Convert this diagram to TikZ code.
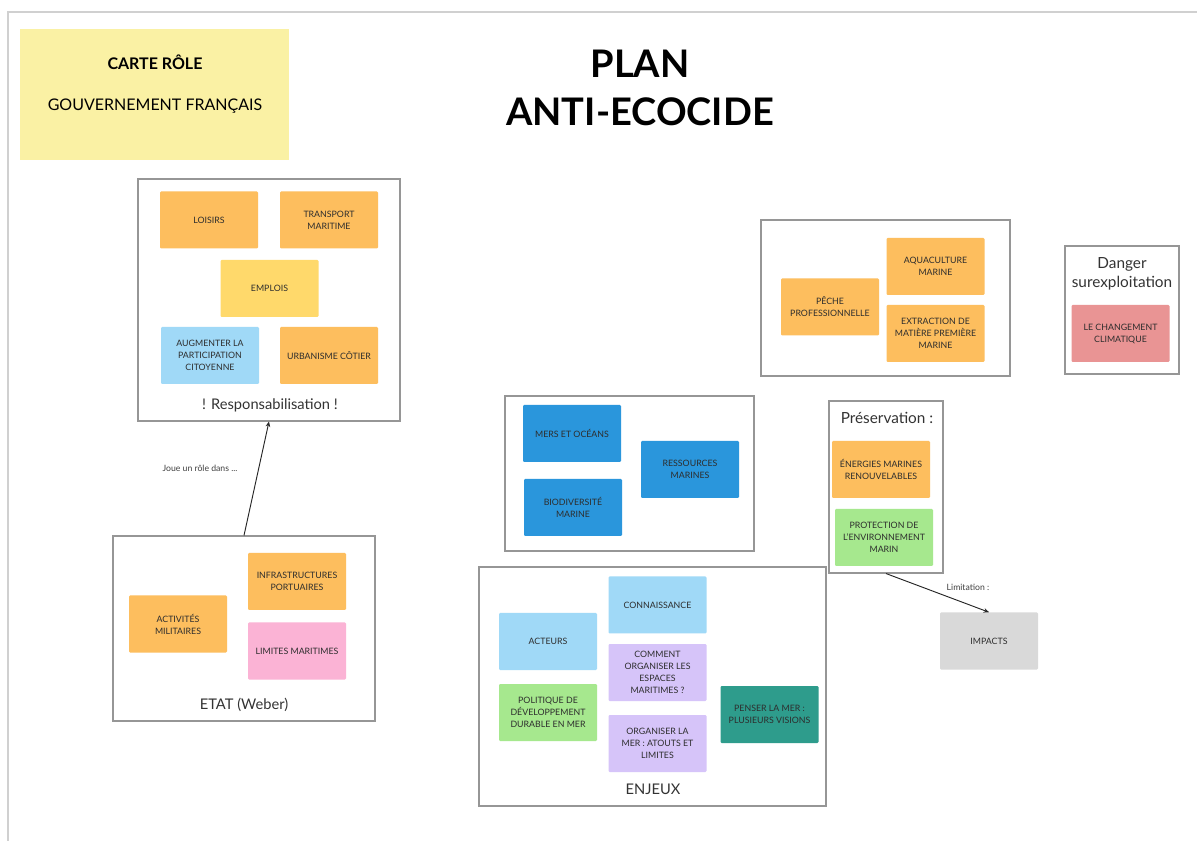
\documentclass[tikz,border=0pt]{standalone}
\usepackage{fontspec}
\setmainfont{Lato}
\usetikzlibrary{arrows.meta}
\definecolor{cardyellow}{RGB}{250,241,164}
\definecolor{orangenote}{RGB}{253,190,94}
\definecolor{yellownote}{RGB}{255,217,107}
\definecolor{lightblue}{RGB}{160,217,247}
\definecolor{pinknote}{RGB}{251,179,213}
\definecolor{greennote}{RGB}{166,232,142}
\definecolor{purplenote}{RGB}{214,196,249}
\definecolor{bluenote}{RGB}{42,150,220}
\definecolor{tealnote}{RGB}{46,156,140}
\definecolor{rednote}{RGB}{233,148,148}
\definecolor{greynote}{RGB}{217,217,217}
\definecolor{framegrey}{RGB}{150,150,150}
\definecolor{outergrey}{RGB}{208,208,208}
\definecolor{notetext}{RGB}{45,45,45}
\tikzset{
  sz/.style 2 args={minimum width=#1*0.75pt, minimum height=#2*0.75pt},
  note/.style={sz={98}{57}, rounded corners=0.8pt, inner sep=1pt, align=center,
    font=\fontsize{6.6}{9}\selectfont, text=notetext},
  frame/.style={draw=framegrey, line width=0.8pt, fill=white},
  framelabel/.style={font=\fontsize{11}{13}\selectfont, text=black!80, align=center},
  smalllabel/.style={font=\fontsize{6.5}{8}\selectfont, text=black!75},
  conn/.style={draw=black!85, line width=0.7pt, -{Stealth[length=4pt,width=3.5pt]}}
}
\begin{document}
\begin{tikzpicture}[x=0.75pt,y=-0.75pt]
\useasboundingbox (0,0) rectangle (1197,841);
\fill[white] (0,0) rectangle (1197,841);
\draw[outergrey, line width=1pt] (8,850) -- (8,12) -- (1205,12);

% role card
\node[fill=cardyellow, sz={269}{131}] (card) at (154.5,94.5) {};
\node[font=\bfseries\fontsize{12}{14}\selectfont] (cardtitle) at (155,62) {CARTE RÔLE};
\node[font=\fontsize{12}{14}\selectfont] (cardsub) at (155,106) {GOUVERNEMENT FRANÇAIS};

% title
\node[font=\bfseries\fontsize{28.5}{36}\selectfont, align=center] (title) at (640,88) {PLAN\\ANTI-ECOCIDE};

% Responsabilisation frame
\node[frame, sz={262}{242}] (resp) at (269,300) {};
\node[note, fill=orangenote] (loisirs) at (209,220) {LOISIRS};
\node[note, fill=orangenote] (transport) at (329,220) {TRANSPORT\\MARITIME};
\node[note, fill=yellownote] (emplois) at (269.5,288.5) {EMPLOIS};
\node[note, fill=lightblue] (augmenter) at (210,355.5) {AUGMENTER LA\\PARTICIPATION\\CITOYENNE};
\node[note, fill=orangenote] (urbanisme) at (329,355.5) {URBANISME CÔTIER};
\node[framelabel] (resplabel) at (270,405) {! Responsabilisation !};

% ETAT frame
\node[frame, sz={262}{185}] (etat) at (244,628.5) {};
\node[note, fill=orangenote] (infra) at (297,581.5) {INFRASTRUCTURES\\PORTUAIRES};
\node[note, fill=orangenote] (activites) at (178,624) {ACTIVITÉS\\MILITAIRES};
\node[note, fill=pinknote] (limites) at (297,651) {LIMITES MARITIMES};
\node[framelabel] (etatlabel) at (244,705) {ETAT (Weber)};

\draw[conn] (etat.north) -- (resp.south);
\node[smalllabel] (joue) at (200,468) {Joue un rôle dans ...};

% top right frame
\node[frame, sz={249}{156}] (pecheframe) at (885.5,298) {};
\node[note, fill=orangenote] (peche) at (830,307) {PÊCHE\\PROFESSIONNELLE};
\node[note, fill=orangenote] (aqua) at (935.5,266.5) {AQUACULTURE\\MARINE};
\node[note, fill=orangenote] (extraction) at (935.5,333.5) {EXTRACTION DE\\MATIÈRE PREMIÈRE\\MARINE};

% danger frame
\node[frame, sz={114}{128}] (danger) at (1122,310) {};
\node[framelabel, font=\fontsize{11.5}{14}\selectfont] (dangerlabel) at (1122,273.5) {Danger\\surexploitation};
\node[note, fill=rednote] (changement) at (1120.5,333.5) {LE CHANGEMENT\\CLIMATIQUE};

% blue frame
\node[frame, sz={249}{155}] (bluebox) at (629.5,473.5) {};
\node[note, fill=bluenote] (mers) at (572,433.5) {MERS ET OCÉANS};
\node[note, fill=bluenote] (ressources) at (690,469.5) {RESSOURCES\\MARINES};
\node[note, fill=bluenote] (biodiv) at (573,507.5) {BIODIVERSITÉ\\MARINE};

% preservation frame
\node[frame, sz={114}{172}] (pres) at (886,487) {};
\node[framelabel, font=\fontsize{11.5}{14}\selectfont] (preslabel) at (887,418) {Préservation :};
\node[note, fill=orangenote] (energies) at (881,469.5) {ÉNERGIES MARINES\\RENOUVELABLES};
\node[note, fill=greennote] (protection) at (884,537.5) {PROTECTION DE\\L'ENVIRONNEMENT\\MARIN};

\node[note, fill=greynote] (impacts) at (989,641) {IMPACTS};
\draw[conn] (pres.south) -- (impacts.north);
\node[smalllabel] (limitation) at (968,587) {Limitation :};

% enjeux frame
\node[frame, sz={347}{239}] (enjeux) at (652.5,686.5) {};
\node[note, fill=lightblue] (connaissance) at (657.5,605) {CONNAISSANCE};
\node[note, fill=lightblue] (acteurs) at (548,641.5) {ACTEURS};
\node[note, fill=purplenote] (comment) at (657.5,672.5) {COMMENT\\ORGANISER LES\\ESPACES\\MARITIMES ?};
\node[note, fill=greennote] (politique) at (548,712.5) {POLITIQUE DE\\DÉVELOPPEMENT\\DURABLE EN MER};
\node[note, fill=purplenote] (organiser) at (657.5,743.5) {ORGANISER LA\\MER : ATOUTS ET\\LIMITES};
\node[note, fill=tealnote] (penser) at (769.5,714.5) {PENSER LA MER :\\PLUSIEURS VISIONS};
\node[framelabel] (enjeuxlabel) at (653,789) {ENJEUX};
\end{tikzpicture}
\end{document}
